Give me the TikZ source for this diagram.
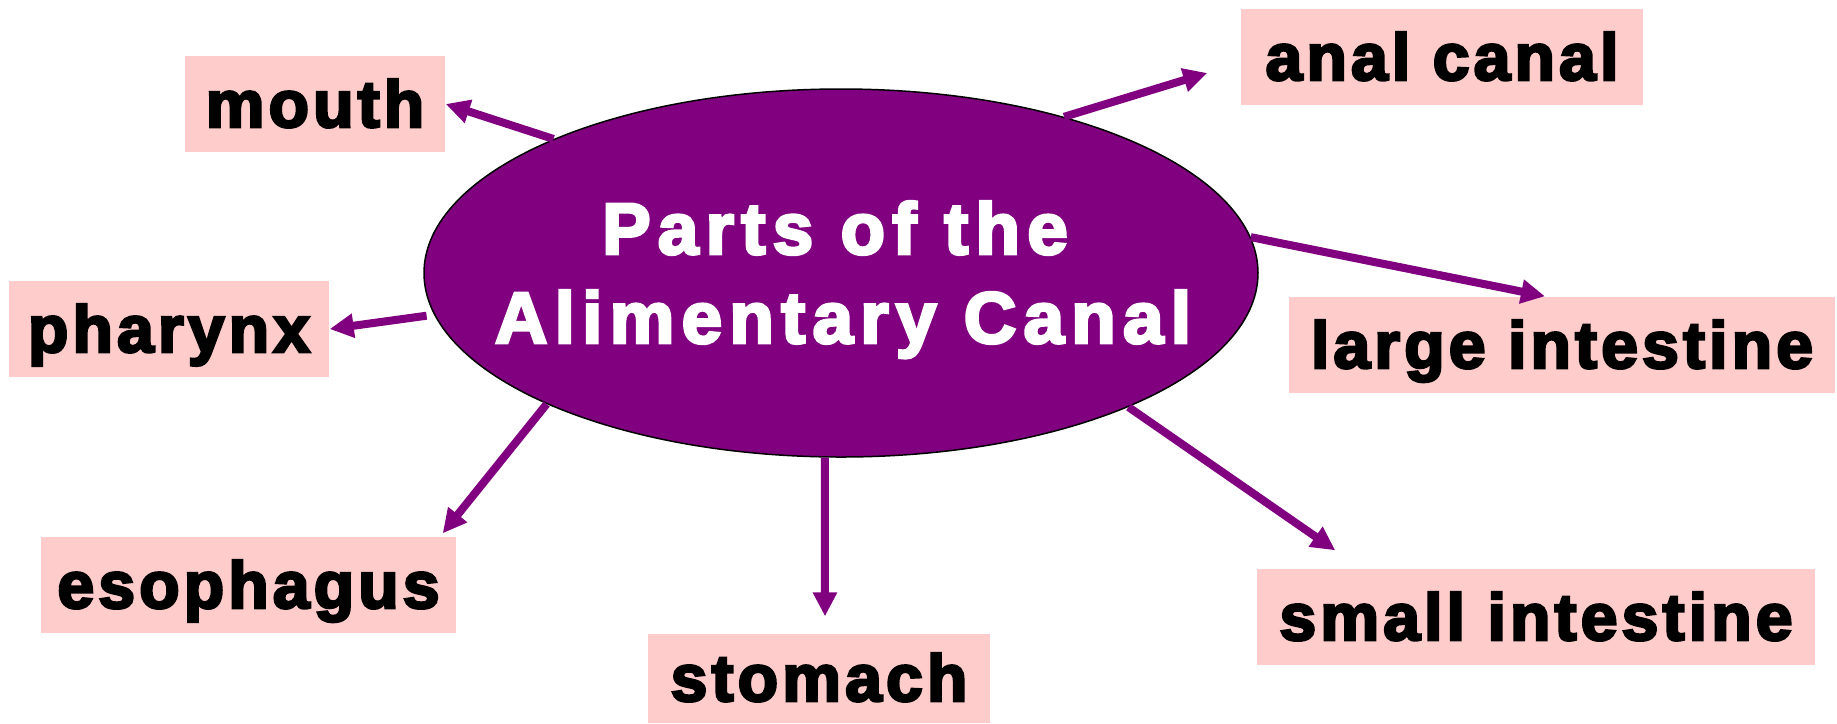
\documentclass[tikz,border=0pt]{standalone}
\usepackage{fontspec}
\usetikzlibrary{calc, arrows.meta, shapes.geometric}

\newfontfamily\partfont[LetterSpace=6.3, FakeBold=4]{Liberation Sans}
\newfontfamily\headfont[LetterSpace=10, FakeBold=4]{Liberation Sans}
\definecolor{canalpurple}{RGB}{128,0,128}
\definecolor{boxpink}{RGB}{255,204,204}

\tikzset{
  part/.style = {fill=boxpink, inner xsep=0pt, inner ysep=0pt, text height=7.1mm, text depth=2.5mm,
    font=\partfont\bfseries\fontsize{18.8}{22}\selectfont},
  headline/.style = {anchor=base, text=white, inner sep=0pt,
    font=\headfont\bfseries\fontsize{20.7}{25}\selectfont},
  feed/.style = {draw=canalpurple, line width=0.8mm, -{Triangle[length=2.4mm, width=2.3mm]}},
}

\begin{document}
\begin{tikzpicture}[x=0.1mm, y=-0.1mm]

    \useasboundingbox (0,0) rectangle (1837,723);

      %the canal in the middle
      \node (canal) at (841,273) [ellipse, draw=black, line width=0.15mm, fill=canalpurple,
        minimum width=83.4mm, minimum height=36.8mm, inner sep=0pt] {};
      \node (head1) at (835,254) [headline] {Parts of the};
      \node (head2) at (843,343) [headline] {Alimentary Canal};

      %parts of the canal
      \node (mouth) at (315,104) [part, minimum width=26mm] {mouth};
      \node (anal) at (1442,57) [part, minimum width=40.2mm] {anal canal};
      \node (pharynx) at (169,329) [part, minimum width=32mm] {pharynx};
      \node (largeint) at (1562,345) [part, minimum width=54.6mm] {large intestine};
      \node (esoph) at (248.5,585) [part, minimum width=41.5mm] {esophagus};
      \node (stomach) at (819,678.5) [part, minimum width=34.2mm, text height=6.7mm, text depth=2.2mm] {stomach};
      \node (smallint) at (1536,617) [part, minimum width=55.8mm] {small intestine};

      %arrows
      \draw[feed] (canal.155.5) -- (mouth.east);
      \draw[feed] (canal.35) -- ($(anal.west)+(-33,16)$);
      \draw[feed] (canal.5.3) -- ($(largeint.north)+(-17,0)$);
      \draw[feed] ($(canal.-174.6)+(-8,0)$) -- (pharynx.east);
      \draw[feed] (canal.204.1) -- ($(esoph.north east)+(-14,-3)$);
      \draw[feed] (canal.265.3) -- ($(stomach.north)+(6,-17)$);
      \draw[feed] (canal.-25.4) -- ($(smallint.north west)+(79,-18)$);

    \end{tikzpicture}
\end{document}
